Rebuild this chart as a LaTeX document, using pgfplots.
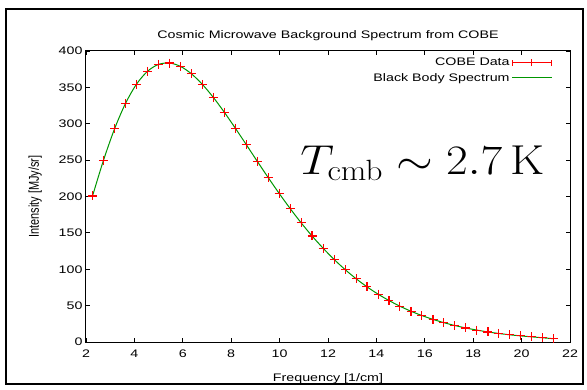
\documentclass[border=0pt]{standalone}
\usepackage{fix-cm}
\usepackage{pgfplots}
\pgfplotsset{compat=1.18}
\usepackage[no-math]{fontspec}
\setmainfont[FakeStretch=1.3]{Liberation Sans}
\newfontfamily\plainsans{Liberation Sans}
\definecolor{gpred}{RGB}{255,0,0}
\definecolor{gpgreen}{RGB}{0,150,0}
\pgfplotstableread{
f I
2.27 200.723
2.72 249.508
3.18 293.024
3.63 327.770
4.08 354.081
4.54 372.079
4.99 381.493
5.45 383.478
5.90 378.901
6.35 368.833
6.81 354.063
7.26 336.278
7.71 316.076
8.17 293.924
8.62 271.432
9.08 248.239
9.53 225.940
9.98 204.327
10.44 183.262
10.89 163.830
11.34 145.750
11.80 128.835
12.25 113.568
12.71 99.451
13.16 87.036
13.61 75.876
14.07 65.766
14.52 57.008
14.97 49.223
15.43 42.267
15.88 36.352
16.34 31.062
16.79 26.580
17.24 22.644
17.70 19.255
18.15 16.391
18.61 13.811
19.06 11.716
19.51 9.921
19.97 8.364
20.42 7.087
20.87 5.801
21.33 4.523
}\cobe
\begin{document}
\begin{tikzpicture}[x=1bp,y=1bp]
\path (-86,-47) rectangle (501,342);
\draw[line width=1.2bp] (-80,-42) rectangle (497,333);
\begin{axis}[
  at={(0,0)}, anchor=south west,
  scale only axis,
  width=484bp, height=291bp,
  xmin=2, xmax=22, ymin=0, ymax=400,
  xtick={2,4,...,22}, ytick={0,50,...,400},
  tick align=inside,
  major tick length=4bp,
  axis line style={line width=1bp},
  every tick/.style={black, line width=0.9bp},
  /pgf/number format/assume math mode=true,
  tick label style={font=\fontsize{11}{13}\selectfont},
  xticklabel style={yshift=-4bp},
  title={\fontsize{11}{13}\selectfont Cosmic Microwave Background Spectrum from COBE},
  title style={yshift=1bp},
  xlabel={\fontsize{11}{13}\selectfont Frequency [1/cm]},
  xlabel style={yshift=-9bp},
  ylabel={\scalebox{1}[1.3]{\plainsans\fontsize{11}{13}\selectfont Intensity [MJy/sr]}},
  ylabel style={yshift=10bp},
  legend style={draw=none, fill=none, at={(0.97,0.99)}, anchor=north east,
    font=\fontsize{11}{13}\selectfont, cells={anchor=east},
    legend cell align=right, row sep=2bp},
  legend plot pos=right,
  clip=false,
]
\addplot[only marks, mark=+, mark size=4.5bp, gpred, mark options={line width=1.1bp},
  legend image code/.code={
    \draw[gpred, line width=1bp] (5bp,0cm) -- ([xshift=5bp]1.4cm,0cm);
    \draw[gpred, line width=1bp] (5bp,-3bp) -- (5bp,3bp);
    \draw[gpred, line width=1bp] ([xshift=5bp]1.4cm,-3bp) -- ([xshift=5bp]1.4cm,3bp);
    \draw[gpred, line width=1bp] ([xshift=5bp]0.7cm,-3.5bp) -- ([xshift=5bp]0.7cm,3.5bp);
  }] table[x=f,y=I] {\cobe};
\addlegendentry{COBE Data}
\addplot[gpgreen, line width=1bp, smooth, no marks,
  legend image code/.code={\draw[gpgreen, line width=1bp] (5bp,0cm) -- ([xshift=5bp]1.4cm,0cm);}]
  table[x=f,y=I] {\cobe};
\addlegendentry{Black Body Spectrum}
\node[anchor=base west, inner sep=0pt] at (axis cs:10.85,230) {\scalebox{1.13}[1]{\fontsize{42}{48}\selectfont $T_{\mathrm{cmb}} \sim 2.7\,\mathrm{K}$}};
\end{axis}
\end{tikzpicture}
\end{document}
